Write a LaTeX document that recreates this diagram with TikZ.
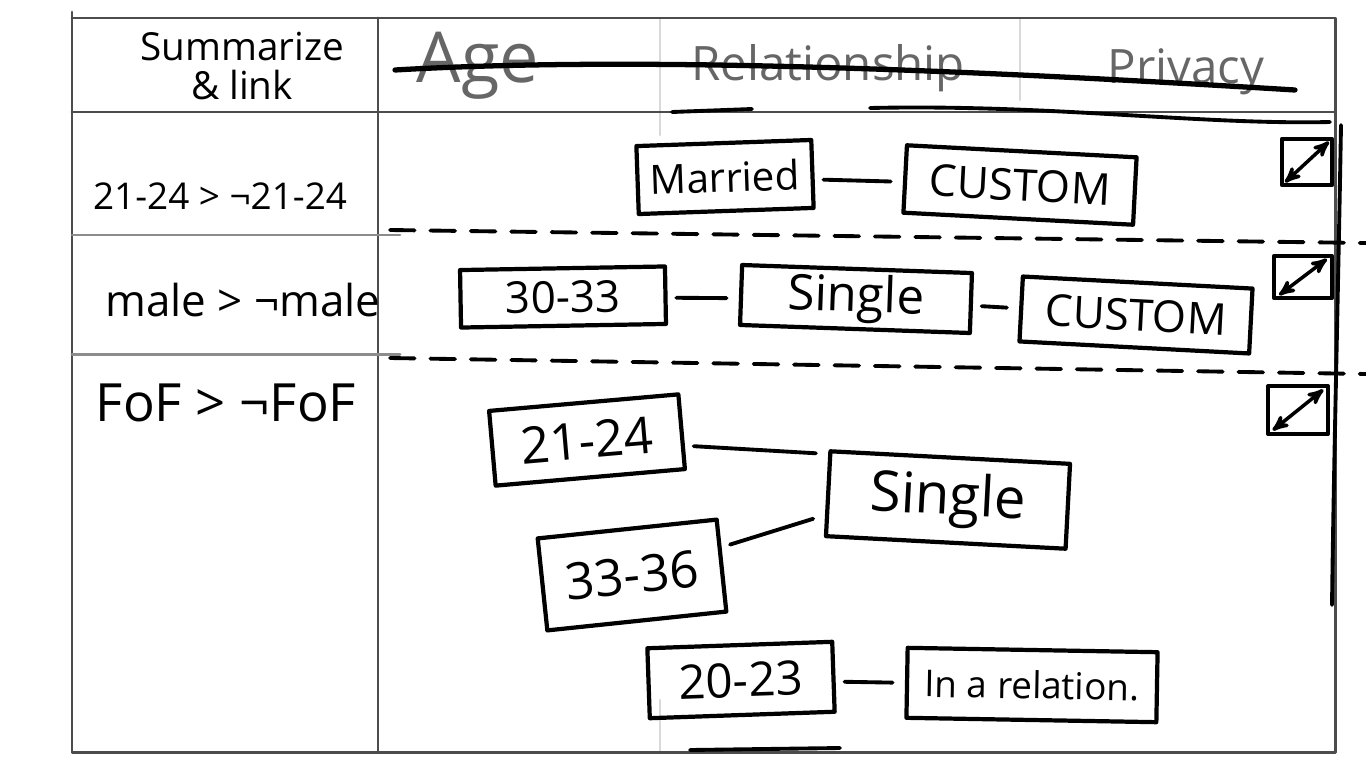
\documentclass[tikz,border=0pt]{standalone}
\usepackage{fontspec}
\setmainfont{Open Sans}
\usetikzlibrary{arrows}

\begin{document}
\begin{tikzpicture}[x=0.02cm, y=-0.02cm, line cap=round, line join=round, >=stealth',
		grid/.style={draw=black!70, line width=1.7pt},
		faint/.style={draw=black!15, line width=1.2pt},
		ink/.style={draw=black, line width=2.2pt},
		choice/.style={draw, line width=2.4pt, inner sep=0pt, font=\fontsize{25}{27}\selectfont},
		link/.style={line width=2.2pt, shorten >=7pt, shorten <=5pt},
		expand/.style={draw, line width=2.4pt, inner sep=0pt},
		head/.style={text=black!60, font=\fontsize{27}{29}\selectfont},
		rule/.style={font=\fontsize{24}{26}\selectfont}]
		\useasboundingbox (0,0) rectangle (1366,768);

		% table frame
		\draw[faint] (660,18) -- (660,135);
		\draw[faint] (660,700) -- (660,752);
		\draw[faint] (1020,18) -- (1020,100);
		\draw[grid] (72,12) -- (72,752) -- (1335,752) -- (1335,18) -- (72,18);
		\draw[grid] (378,18) -- (378,752);
		\draw[grid] (72,112) -- (1335,112);
		\draw[grid, draw=black!45] (72,235) -- (400,235);
		\draw[grid, draw=black!45] (72,354) -- (400,354);

		% header
		\node[font=\fontsize{22}{22}\selectfont, align=center] (summary) at (242,66) {Summarize\\\& link};
		\node[head, font=\fontsize{40}{42}\selectfont] (age) at (478,66) {Age};
		\node[head] (relation) at (828,68) {Relationship};
		\node[head] (privacy) at (1186,72) {Privacy};
		\draw[ink, line width=3pt] (395,70) .. controls (650,55) and (1000,72) .. (1295,90);
		\draw[ink] (672,112) -- (752,109);
		\draw[ink] (870,108) .. controls (1050,104) and (1200,125) .. (1330,122);

		% left column
		\node[rule, font=\fontsize{21}{23}\selectfont] (ruleage) at (220,196) {21-24 > ¬21-24};
		\node[rule, font=\fontsize{25}{27}\selectfont] (rulesex) at (243,300) {male > ¬male};
		\node[rule, font=\fontsize{30}{32}\selectfont] (rulefof) at (226,403) {FoF > ¬FoF};

		% row separators
		\draw[ink, dash pattern=on 14pt off 9pt] (390,230) -- (1366,243);
		\draw[ink, dash pattern=on 14pt off 9pt] (390,358) -- (1366,374);
		\draw[ink] (1341,125) .. controls (1338,300) and (1334,450) .. (1332,605);
		\draw[ink] (690,750) -- (840,748);

		% row 1
		\node[choice, minimum width=3.5cm, minimum height=1.36cm, rotate=2, font=\fontsize{23}{25}\selectfont] (married) at (725,177) {Married};
		\node[choice, minimum width=4.6cm, minimum height=1.35cm, rotate=-3] (custom1) at (1020,185) {CUSTOM};
		\node[expand, minimum width=1.0cm, minimum height=0.92cm] (zoom1) at (1307,162) {};

		% row 2
		\node[choice, minimum width=4.1cm, minimum height=1.15cm, rotate=1] (age2) at (563,297) {30-33};
		\node[choice, minimum width=4.6cm, minimum height=1.2cm, rotate=-2, font=\fontsize{28}{30}\selectfont] (single2) at (856,299) {Single};
		\node[choice, minimum width=4.6cm, minimum height=1.3cm, rotate=-3] (custom2) at (1136,315) {CUSTOM};
		\node[expand, minimum width=1.15cm, minimum height=0.85cm] (zoom2) at (1303,277) {};

		% row 3
		\node[choice, minimum width=3.8cm, minimum height=1.5cm, rotate=5, font=\fontsize{29}{31}\selectfont] (age3a) at (587,440) {21-24};
		\node[choice, minimum width=3.6cm, minimum height=1.85cm, rotate=6, font=\fontsize{29}{31}\selectfont] (age3b) at (632,575) {33-36};
		\node[choice, minimum width=4.8cm, minimum height=1.7cm, rotate=-3, font=\fontsize{32}{34}\selectfont] (single3) at (948,500) {Single};
		\node[choice, minimum width=3.7cm, minimum height=1.4cm, rotate=2, font=\fontsize{27}{29}\selectfont] (age3c) at (741,680) {20-23};
		\node[choice, minimum width=5.0cm, minimum height=1.4cm, rotate=-1, font=\fontsize{21}{23}\selectfont] (rel3) at (1032,685) {In a relation.};
		\node[expand, minimum width=1.2cm, minimum height=0.95cm] (zoom3) at (1298,410) {};

		\path[link] (married) edge (custom1)
			(age2) edge (single2)
			(single2) edge (custom2)
			(age3a) edge (single3.162)
			(age3b) edge (single3.190)
			(age3c) edge (rel3);

		\draw[<->, line width=2pt, shorten >=4pt, shorten <=4pt] (zoom1.south west) -- (zoom1.north east);
		\draw[<->, line width=2pt, shorten >=5pt, shorten <=5pt] (zoom2.south west) -- (zoom2.north east);
		\draw[<->, line width=2pt, shorten >=5pt, shorten <=5pt] (zoom3.south west) -- (zoom3.north east);
	\end{tikzpicture}
\end{document}
